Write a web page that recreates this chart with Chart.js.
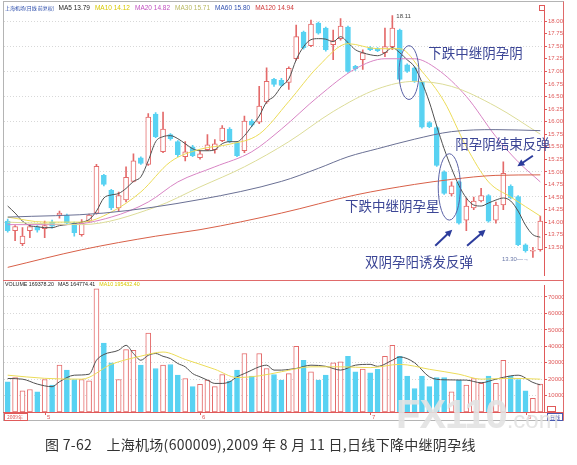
<!DOCTYPE html>
<html>
<head>
<meta charset="utf-8">
<script src="https://cdn.jsdelivr.net/npm/chart.js@4"></script>
<style>
  body { margin: 0; background: #fff; width: 577px; height: 465px; overflow: hidden; position: relative; font-family: "Noto Sans CJK SC", sans-serif; }
  #frame { position: absolute; left: 3px; top: 1px; width: 561px; height: 420px; box-sizing: border-box; border: 1px solid #b4b4b4; border-right-color: #e06a6a; }
  #split { position: absolute; left: 3px; top: 280px; width: 560px; height: 1px; background: #e06a6a; }
  .pane { position: absolute; left: 0; }
  #mark { position: absolute; left: 396px; top: 392px; color: rgba(226,226,226,0.9); font-family: "Liberation Sans", sans-serif; font-weight: bold; white-space: nowrap; }
  #mark b { font-size: 40px; letter-spacing: -1px; }
  #mark span { font-size: 24px; font-weight: normal; }
  #caption { position: absolute; left: 45px; top: 434px; font-size: 14px; letter-spacing: 0.3px; color: #333; white-space: nowrap; }
</style>
</head>
<body>
<div id="frame"></div>
<div class="pane" style="top:0"><canvas id="priceChart" width="564" height="280"></canvas></div>
<div class="pane" style="top:280px"><canvas id="volChart" width="564" height="142"></canvas></div>
<div id="split"></div>
<div id="mark"><b>FX110</b><span>.com</span></div>
<div id="caption">图 7-62　上海机场(600009),2009 年 8 月 11 日,日线下降中继阴孕线</div>

<script>
// -----------------------------
// Kursdaten (aus dem Bild gelesen)
// -----------------------------
const opens = [14.02, 13.83, 13.57, 13.83, 13.90, 13.87, 14.00, 14.14, 14.14, 13.98,
               13.75, 14.02, 14.18, 14.93, 14.63, 14.28, 14.44, 14.81, 15.28, 15.15,
               16.15, 15.40, 15.74, 15.60, 15.30, 15.50, 15.28, 15.44, 15.44, 15.62,
               15.85, 15.58, 15.42, 16.01, 15.99, 16.39, 16.84, 16.82, 16.78, 17.25,
               17.78, 17.51, 17.96, 17.86, 17.53, 17.65, 17.88, 17.10, 17.23, 17.47,
               17.45, 17.37, 17.49, 17.82, 17.13, 17.07, 16.78, 15.98, 15.88, 15.00,
               14.56, 14.80, 14.04, 14.28, 14.42, 14.53, 14.04, 14.34, 14.71, 14.51,
               13.55, 13.42, 13.45];
const closes = [13.83, 13.91, 13.72, 13.91, 13.84, 13.93, 13.92, 14.18, 13.98, 13.79,
                13.98, 14.14, 15.11, 14.75, 14.28, 14.53, 14.89, 15.22, 15.17, 16.09,
                15.70, 15.85, 15.66, 15.34, 15.40, 15.32, 15.36, 15.54, 15.56, 15.87,
                15.60, 15.32, 16.01, 15.93, 16.31, 16.80, 16.74, 16.72, 17.06, 17.69,
                17.47, 17.94, 17.76, 17.43, 17.61, 17.90, 17.00, 17.05, 17.37, 17.43,
                17.41, 17.49, 17.86, 16.84, 17.00, 16.80, 15.89, 15.90, 15.13, 14.57,
                14.72, 13.98, 14.32, 14.42, 14.53, 14.02, 14.34, 14.97, 14.48, 13.55,
                13.43, 13.44, 14.02];
const highs = [14.06, 13.93, 13.89, 13.95, 13.93, 14.02, 14.04, 14.22, 14.16, 14.00,
               14.05, 14.16, 15.15, 14.95, 14.65, 14.60, 15.10, 15.36, 15.30, 16.16,
               16.18, 16.19, 15.76, 15.62, 15.60, 15.53, 15.42, 15.74, 15.64, 15.92,
               15.88, 15.60, 16.11, 16.04, 16.70, 17.07, 16.86, 16.86, 17.09, 17.92,
               17.80, 18.02, 17.98, 17.88, 17.82, 18.05, 17.90, 17.12, 17.43, 17.49,
               17.47, 17.86, 18.11, 17.84, 17.15, 17.09, 16.80, 16.00, 15.90, 15.02,
               14.80, 14.82, 14.48, 14.50, 14.67, 14.55, 14.40, 15.20, 14.74, 14.53,
               13.57, 13.50, 14.12];
const lows = [13.80, 13.63, 13.53, 13.69, 13.80, 13.69, 13.88, 14.08, 13.95, 13.72,
              13.72, 14.00, 14.16, 14.72, 14.25, 14.22, 14.40, 14.80, 15.15, 15.13,
              15.68, 15.38, 15.63, 15.30, 15.22, 15.30, 15.25, 15.42, 15.37, 15.60,
              15.58, 15.30, 15.38, 15.90, 15.96, 16.36, 16.70, 16.70, 16.64, 17.22,
              17.44, 17.49, 17.74, 17.40, 17.23, 17.62, 16.98, 17.02, 17.04, 17.41,
              17.39, 17.29, 17.43, 16.82, 16.98, 16.78, 15.87, 15.88, 15.11, 14.55,
              14.52, 13.96, 13.83, 14.25, 14.40, 14.00, 13.98, 14.25, 14.46, 13.53,
              13.40, 13.30, 13.42];
const volumes = [184000, 210000, 129000, 137000, 123000, 198000, 164000, 285000, 255000, 198000,
                 198000, 190000, 750000, 420000, 299000, 198000, 380000, 376000, 285000, 481000,
                 265000, 285000, 289000, 224000, 204000, 154000, 168000, 194000, 154000, 228000,
                 188000, 255000, 356000, 218000, 356000, 265000, 228000, 194000, 234000, 400000,
                 315000, 244000, 194000, 224000, 299000, 305000, 339000, 244000, 261000, 238000,
                 259000, 339000, 406000, 339000, 218000, 143000, 218000, 154000, 210000, 210000,
                 123000, 194000, 164000, 204000, 174000, 218000, 174000, 315000, 218000, 198000,
                 129000, 83000, 169378];

// Durchschnittslinien
const ma5 = [14.32, 14.18, 14.02, 13.93, 13.91, 13.89, 13.89, 13.93, 13.95, 13.97,
             14.00, 14.05, 14.22, 14.48, 14.54, 14.57, 14.67, 14.81, 14.90, 15.22,
             15.60, 15.70, 15.72, 15.66, 15.56, 15.46, 15.42, 15.42, 15.44, 15.56,
             15.60, 15.60, 15.72, 15.91, 16.11, 16.39, 16.50, 16.70, 16.85, 17.23,
             17.49, 17.63, 17.65, 17.64, 17.59, 17.69, 17.57, 17.43, 17.37, 17.33,
             17.31, 17.37, 17.47, 17.37, 17.23, 17.09, 16.78, 16.39, 15.91, 15.46,
             15.07, 14.73, 14.48, 14.34, 14.32, 14.38, 14.44, 14.48, 14.42, 14.22,
             13.94, 13.75, 13.70];
const ma10Pts = [[0, 14.1], [5, 14.0], [10, 14.0], [14, 14.2], [18, 14.6], [22, 15.2], [26, 15.45],
                 [30, 15.55], [34, 15.75], [38, 16.4], [42, 17.1], [46, 17.55], [50, 17.45], [53, 17.45],
                 [56, 17.0], [59, 16.4], [62, 15.5], [65, 14.8], [68, 14.5], [72, 14.12]];
const ma20Pts = [[0, 13.95], [8, 13.95], [14, 14.1], [19, 14.4], [23, 14.8], [28, 15.1], [33, 15.4],
                 [37, 15.85], [42, 16.5], [47, 17.05], [51, 17.25], [55, 17.25], [58, 17.05], [62, 16.5],
                 [66, 15.7], [69, 15.2], [72, 14.8]];
const ma30Pts = [[0, 14.0], [10, 13.95], [20, 14.3], [26, 14.7], [32, 15.1], [38, 15.6], [44, 16.2],
                 [50, 16.65], [55, 16.8], [60, 16.7], [66, 16.3], [72, 15.75]];
const ma60Pts = [[0, 14.1], [13, 14.18], [26, 14.45], [37, 14.81], [42, 15.07], [46, 15.3],
                 [50, 15.46], [55, 15.65], [60, 15.8], [66, 15.84], [72, 15.82]];
const ma120Pts = [[0, 13.1], [10, 13.45], [20, 13.72], [26, 13.85], [37, 14.18], [47, 14.54],
                  [55, 14.75], [60, 14.85], [66, 14.93], [72, 14.94]];
const volMa5Pts = [[0, 204000], [2, 200000], [4, 170000], [6, 154000], [7, 184000], [9, 224000], [11, 230000],
                   [12, 315000], [13, 350000], [15, 376000], [16, 406000], [17, 356000], [18, 315000],
                   [19, 345000], [20, 356000], [21, 339000], [22, 325000], [23, 295000], [24, 275000],
                   [25, 234000], [26, 214000], [27, 194000], [28, 174000], [29, 174000], [30, 184000],
                   [31, 214000], [32, 234000], [33, 255000], [34, 275000], [35, 285000], [36, 255000],
                   [37, 255000], [38, 259000], [39, 265000], [41, 285000], [43, 278000], [45, 255000],
                   [47, 285000], [49, 290000], [50, 278000], [52, 315000], [53, 335000], [55, 300000],
                   [57, 214000], [59, 196000], [62, 194000], [64, 178000], [66, 200000], [68, 220000],
                   [69, 224000], [71, 180000], [72, 164774]];
const volMa10Pts = [[0, 224000], [5, 205000], [10, 200000], [14, 290000], [18, 340000], [21, 365000],
                    [24, 320000], [28, 260000], [31, 210000], [34, 220000], [37, 245000], [41, 275000],
                    [45, 275000], [49, 270000], [53, 290000], [57, 260000], [61, 230000], [64, 200000],
                    [68, 205000], [72, 200000]];

// Achsen
const priceTicks = [13.5, 13.75, 14.0, 14.25, 14.5, 14.75, 15.0, 15.25, 15.5, 15.75,
                    16.0, 16.25, 16.5, 16.75, 17.0, 17.25, 17.5, 17.75, 18.0];
const volTicks = [100000, 200000, 300000, 400000, 500000, 600000, 700000];
const monthTickIdx = [5, 26, 49, 70];
const monthTickText = ["5", "6", "7", "8"];

const priceTitle = ["上海机场(日线 前复权)", "#2446a8"];
const priceLegend = [["MA5 13.79", "#222"], ["MA10 14.12", "#d8c800"],
                     ["MA20 14.82", "#c050c0"], ["MA30 15.71", "#b8b860"], ["MA60 15.80", "#3050b0"],
                     ["MA120 14.94", "#d03838"]];
const volLegend = [["VOLUME 169378.20", "#222"], ["MA5 164774.41", "#222"], ["MA10 195432.40", "#d8c800"]];

// -----------------------------
// Farben / Stil
// -----------------------------
const UP = "#e46a6a";
const DOWN = "#58d2f2";
const AXIS_RED = "#e05a5a";
const NOTE = "#3c4696";
const labels = opens.map((_, i) => i);
const isUp = opens.map((o, i) => closes[i] >= o);
const FONT_SM = "\"Liberation Sans\", sans-serif";

const notes = [
    { text: "下跌中继阴孕阴", i: 56.85, p: 17.37 },
    { text: "阳孕阴结束反弹", i: 60.5, p: 15.56 },
    { text: "下跌中继阴孕星", i: 45.6, p: 14.32 },
    { text: "双阴孕阳诱发反弹", i: 48.3, p: 13.20 }
];
const rings = [
    { i0: 52.9, i1: 55.6, p0: 17.51, p1: 16.44 },
    { i0: 58.2, i1: 61.2, p0: 15.36, p1: 14.04 }
];
const arrows = [
    { i0: 57.8, p0: 13.53, i1: 60.1, p1: 13.85 },
    { i0: 62.1, p0: 13.53, i1: 64.6, p1: 13.85 },
    { i0: 71.0, p0: 15.32, i1: 68.9, p1: 15.11 }
];

function pts(list) {
    return list.map(([i, v]) => ({ x: i, y: v }));
}

function maLine(data, color, width) {
    return {
        type: "line",
        data: data,
        borderColor: color,
        borderWidth: width || 1,
        pointRadius: 0,
        cubicInterpolationMode: "monotone",
        order: 0
    };
}

// -----------------------------
// Deko im Kurschart
// -----------------------------
const priceDecor = {
    id: "priceDecor",
    afterDatasetsDraw(chart) {
        const { ctx, scales: { x, y } } = chart;
        ctx.save();

        ctx.strokeStyle = "#5a62a6";
        ctx.lineWidth = 1;
        rings.forEach(r => {
            const x1 = x.getPixelForValue(r.i0), x2 = x.getPixelForValue(r.i1);
            const y1 = y.getPixelForValue(r.p0), y2 = y.getPixelForValue(r.p1);
            ctx.beginPath();
            ctx.ellipse((x1 + x2) / 2, (y1 + y2) / 2, Math.abs(x2 - x1) / 2, Math.abs(y2 - y1) / 2, 0, 0, Math.PI * 2);
            ctx.stroke();
        });

        ctx.fillStyle = NOTE;
        ctx.font = "13.5px \"Noto Sans CJK SC\"";
        ctx.textBaseline = "middle";
        notes.forEach(n => ctx.fillText(n.text, x.getPixelForValue(n.i), y.getPixelForValue(n.p)));

        ctx.strokeStyle = "#2c3c9c";
        ctx.fillStyle = "#2c3c9c";
        ctx.lineWidth = 2;
        arrows.forEach(a => {
            const x0 = x.getPixelForValue(a.i0), y0 = y.getPixelForValue(a.p0);
            const x1 = x.getPixelForValue(a.i1), y1 = y.getPixelForValue(a.p1);
            const ang = Math.atan2(y1 - y0, x1 - x0);
            ctx.beginPath();
            ctx.moveTo(x0, y0);
            ctx.lineTo(x1 - 5 * Math.cos(ang), y1 - 5 * Math.sin(ang));
            ctx.stroke();
            ctx.beginPath();
            ctx.moveTo(x1, y1);
            ctx.lineTo(x1 - 7 * Math.cos(ang) + 3.5 * Math.sin(ang), y1 - 7 * Math.sin(ang) - 3.5 * Math.cos(ang));
            ctx.lineTo(x1 - 7 * Math.cos(ang) - 3.5 * Math.sin(ang), y1 - 7 * Math.sin(ang) + 3.5 * Math.cos(ang));
            ctx.closePath();
            ctx.fill();
        });

        // Hoch / Tief Markierung
        ctx.font = "6px " + FONT_SM;
        ctx.fillStyle = "#444";
        ctx.textBaseline = "middle";
        const hi = highs.indexOf(Math.max(...highs));
        ctx.fillText(highs[hi].toFixed(2), x.getPixelForValue(hi) + 4, y.getPixelForValue(highs[hi]) + 1);
        const lo = lows.indexOf(Math.min(...lows));
        ctx.fillStyle = "#6a78a8";
        ctx.textAlign = "right";
        ctx.fillText(lows[lo].toFixed(2) + "—→", x.getPixelForValue(lo) - 4, y.getPixelForValue(lows[lo]) + 2);
        ctx.restore();
    },
    afterDraw(chart) {
        const ctx = chart.ctx;
        ctx.save();
        ctx.textBaseline = "middle";
        ctx.font = "5px \"Noto Sans CJK SC\"";
        ctx.fillStyle = priceTitle[1];
        ctx.fillText(priceTitle[0], 5, 8);
        let lx = 5 + ctx.measureText(priceTitle[0]).width + 4;
        ctx.font = "6.5px " + FONT_SM;
        priceLegend.forEach(([t, c]) => {
            ctx.fillStyle = c;
            ctx.fillText(t, lx, 8);
            lx += ctx.measureText(t).width + 5;
        });
        ctx.strokeStyle = AXIS_RED;
        ctx.strokeRect(chart.chartArea.right - 4.5, 5.5, 5, 5);
        ctx.restore();
    }
};

// -----------------------------
// Deko im Volumenchart
// -----------------------------
const volDecor = {
    id: "volDecor",
    afterDraw(chart) {
        const { ctx, chartArea: area, scales: { x } } = chart;
        ctx.save();
        ctx.font = "5.3px " + FONT_SM;
        ctx.textBaseline = "middle";
        let lx = 5;
        volLegend.forEach(([t, c]) => {
            ctx.fillStyle = c;
            ctx.fillText(t, lx, 5);
            lx += ctx.measureText(t).width + 4;
        });

        // Zeitleiste
        ctx.strokeStyle = AXIS_RED;
        ctx.lineWidth = 1;
        ctx.beginPath();
        ctx.moveTo(3, area.bottom + 0.5);
        ctx.lineTo(563, area.bottom + 0.5);
        ctx.stroke();
        ctx.fillStyle = AXIS_RED;
        ctx.font = "6px " + FONT_SM;
        monthTickIdx.forEach((idx, k) => {
            const px = Math.round(x.getPixelForValue(idx)) + 0.5;
            ctx.beginPath();
            ctx.moveTo(px, area.bottom);
            ctx.lineTo(px, area.bottom + 3);
            ctx.stroke();
            ctx.fillText(monthTickText[k], px + 1.5, area.bottom + 5);
        });
        ctx.strokeRect(4.5, area.bottom + 1.5, 23, 7);
        ctx.font = "5px \"Noto Sans CJK SC\"";
        ctx.fillText("2009年", 7, area.bottom + 5);
        ctx.strokeRect(area.right + 3.5, area.bottom - 5.5, 8, 5);
        ctx.strokeStyle = "#4a5ab0";
        ctx.fillStyle = "#4a5ab0";
        ctx.strokeRect(area.right + 3.5, area.bottom + 1.5, 15, 7);
        ctx.fillText("日线", area.right + 6, area.bottom + 5);
        ctx.restore();
    }
};

const rightAxis = (min, max, ticks, fmt, gridTest) => ({
    position: "right",
    min: min,
    max: max,
    afterFit: s => { s.width = 20; },
    afterBuildTicks: s => { s.ticks = ticks.map(v => ({ value: v })); },
    border: { display: true, color: AXIS_RED, width: 1, dash: [1, 2] },
    grid: {
        color: ctx => (ctx.tick && gridTest(ctx.tick.value) ? "#d8d8d8" : "rgba(0,0,0,0)"),
        tickColor: AXIS_RED,
        tickLength: 3
    },
    ticks: {
        color: AXIS_RED,
        font: { size: 6, family: FONT_SM },
        padding: 1,
        callback: fmt
    }
});

// -----------------------------
// Kurschart
// -----------------------------
new Chart(document.getElementById("priceChart"), {
    type: "bar",
    data: {
        labels: labels,
        datasets: [
            {
                data: lows.map((l, i) => [l, highs[i]]),
                backgroundColor: isUp.map(u => (u ? UP : DOWN)),
                barThickness: 1,
                grouped: false,
                order: 2
            },
            {
                data: opens.map((o, i) => [o, closes[i]]),
                backgroundColor: isUp.map(u => (u ? "#ffffff" : DOWN)),
                borderColor: isUp.map(u => (u ? UP : DOWN)),
                borderWidth: 1,
                borderSkipped: false,
                barThickness: 5,
                minBarLength: 1,
                grouped: false,
                order: 1
            },
            maLine(pts(ma120Pts), "#d86048"),
            maLine(pts(ma60Pts), "#6a7094"),
            maLine(pts(ma30Pts), "#dcdc98"),
            maLine(pts(ma20Pts), "#d884c4"),
            maLine(pts(ma10Pts), "#ecdc58"),
            maLine(ma5, "#505050")
        ]
    },
    options: {
        responsive: false,
        animation: false,
        layout: { padding: { left: 4, top: 10, bottom: 2, right: 0 } },
        plugins: { legend: { display: false }, tooltip: { enabled: false } },
        scales: {
            x: { type: "category", display: false, offset: true },
            y: rightAxis(12.94, 18.22, priceTicks, v => v.toFixed(2), v => Number.isInteger(v * 2))
        }
    },
    plugins: [priceDecor]
});

// -----------------------------
// Volumenchart
// -----------------------------
new Chart(document.getElementById("volChart"), {
    type: "bar",
    data: {
        labels: labels,
        datasets: [
            {
                data: volumes,
                backgroundColor: isUp.map(u => (u ? "#ffffff" : DOWN)),
                borderColor: isUp.map(u => (u ? UP : DOWN)),
                borderWidth: 1,
                borderSkipped: false,
                barThickness: 5,
                order: 1
            },
            maLine(pts(volMa10Pts), "#ecdc58"),
            maLine(pts(volMa5Pts), "#505050")
        ]
    },
    options: {
        responsive: false,
        animation: false,
        layout: { padding: { left: 4, top: 5, bottom: 10, right: 0 } },
        plugins: { legend: { display: false }, tooltip: { enabled: false } },
        scales: {
            x: { type: "category", display: false, offset: true },
            y: rightAxis(0, 773000, volTicks, v => String(v), () => true)
        }
    },
    plugins: [volDecor]
});
</script>
</body>
</html>
